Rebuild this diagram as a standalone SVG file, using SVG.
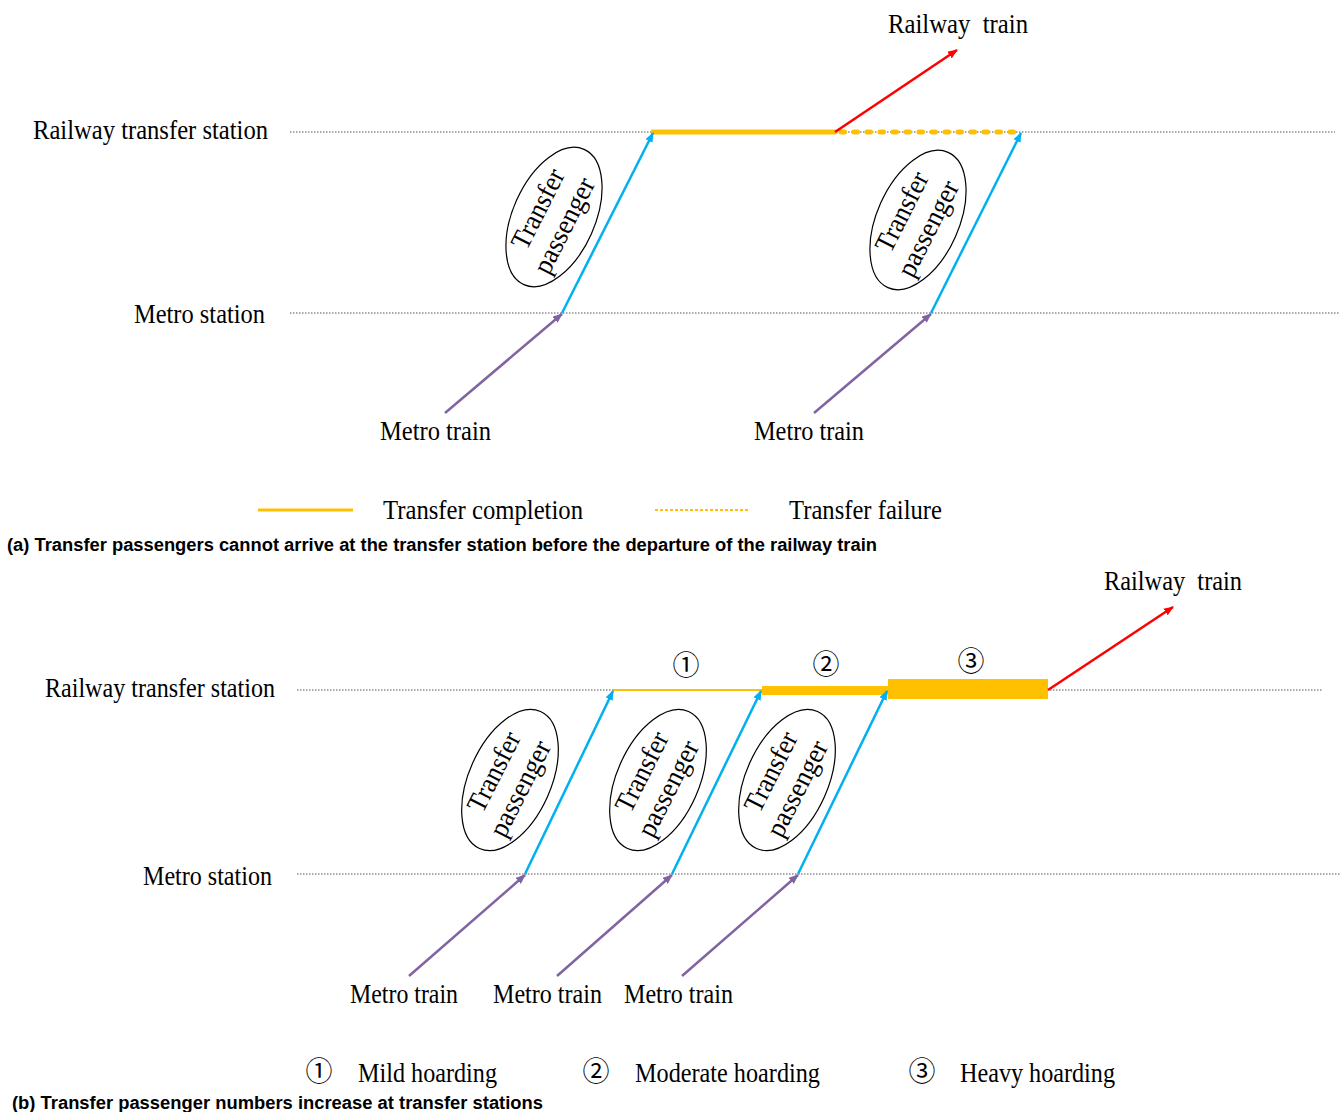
<svg xmlns="http://www.w3.org/2000/svg" width="1341" height="1112" viewBox="0 0 1341 1112">
<style>
.lbl{font-family:"Liberation Serif","Times New Roman",serif;font-size:26.5px;fill:#000}
.ell{fill:#fff;stroke:#000;stroke-width:1.2}
.ellt{font-family:"Liberation Serif","Times New Roman",serif;font-size:28px;text-anchor:middle;fill:#000}
.axis{stroke:#555;stroke-width:1;stroke-dasharray:1.5 1.5;fill:none}
.blue{stroke:#00B0F0;stroke-width:2.5;fill:none;marker-end:url(#ab)}
.purple{stroke:#8064A2;stroke-width:2.5;fill:none;marker-end:url(#ap)}
.red{stroke:#FF0000;stroke-width:2.5;fill:none;marker-end:url(#ar)}
.cap{font-family:"Liberation Sans Narrow","Liberation Sans",Arial,sans-serif;font-weight:bold;font-size:18px;fill:#000}
.circ{font-family:"Noto Sans CJK SC","DejaVu Sans",sans-serif;font-size:27px;text-anchor:middle;fill:#000}
.org{fill:#FFC000}
</style>
<defs>
<marker id="ab" markerUnits="userSpaceOnUse" markerWidth="10" markerHeight="8" refX="9" refY="4" orient="auto"><path d="M0,0 L10,4 L0,8 z" fill="#00B0F0"/></marker>
<marker id="ap" markerUnits="userSpaceOnUse" markerWidth="10" markerHeight="8" refX="9" refY="4" orient="auto"><path d="M0,0 L10,4 L0,8 z" fill="#8064A2"/></marker>
<marker id="ar" markerUnits="userSpaceOnUse" markerWidth="10" markerHeight="8" refX="9" refY="4" orient="auto"><path d="M0,0 L10,4 L0,8 z" fill="#FF0000"/></marker>
</defs>
<rect width="1341" height="1112" fill="#fff"/>

<!-- ===== Part (a) ===== -->
<g id="axes-a">
<line class="axis" x1="290" y1="132" x2="1335" y2="132"/>
<line class="axis" x1="290" y1="313" x2="1340" y2="313"/>
</g>
<g id="labels-a">
<text class="lbl" x="33" y="139" textLength="235" lengthAdjust="spacingAndGlyphs">Railway transfer station</text>
<text class="lbl" x="134" y="323" textLength="131" lengthAdjust="spacingAndGlyphs">Metro station</text>
<text class="lbl" x="888" y="33" textLength="140" lengthAdjust="spacingAndGlyphs" xml:space="preserve">Railway  train</text>
<text class="lbl" x="380" y="440" textLength="111" lengthAdjust="spacingAndGlyphs">Metro train</text>
<text class="lbl" x="754" y="440" textLength="110" lengthAdjust="spacingAndGlyphs">Metro train</text>
</g>
<g id="connectors-a">
<line x1="653" y1="132" x2="835" y2="132" stroke="#FFC000" stroke-width="5" stroke-linecap="round"/>
<line x1="841" y1="132" x2="1016" y2="132" stroke="#FFC000" stroke-width="5" stroke-linecap="round" stroke-dasharray="3.5 9.5"/>
<line class="red" x1="835" y1="132" x2="957" y2="50"/>
<line class="purple" x1="445" y1="413" x2="562" y2="314"/>
<line class="blue" x1="562" y1="313" x2="653" y2="133"/>
<line class="purple" x1="814" y1="413" x2="931" y2="314"/>
<line class="blue" x1="931" y1="313" x2="1021" y2="133"/>
</g>
<g id="node-a1" transform="translate(554,217)">
<ellipse class="ell" cx="0" cy="0" rx="41" ry="74" transform="rotate(24)"/>
<g transform="rotate(-63)"><text class="ellt" x="0" y="-9" textLength="86" lengthAdjust="spacingAndGlyphs">Transfer</text><text class="ellt" x="-3" y="22" textLength="104" lengthAdjust="spacingAndGlyphs">passenger</text></g>
</g>
<g id="node-a2" transform="translate(918,220)">
<ellipse class="ell" cx="0" cy="0" rx="41" ry="74" transform="rotate(24)"/>
<g transform="rotate(-63)"><text class="ellt" x="0" y="-9" textLength="86" lengthAdjust="spacingAndGlyphs">Transfer</text><text class="ellt" x="-3" y="22" textLength="104" lengthAdjust="spacingAndGlyphs">passenger</text></g>
</g>
<g id="legend-a">
<line x1="258" y1="510" x2="353" y2="510" stroke="#FFC000" stroke-width="3"/>
<text class="lbl" x="383" y="519" textLength="200" lengthAdjust="spacingAndGlyphs">Transfer completion</text>
<line x1="655" y1="510" x2="748" y2="510" stroke="#FFC000" stroke-width="2" stroke-dasharray="3 2"/>
<text class="lbl" x="789" y="519" textLength="153" lengthAdjust="spacingAndGlyphs">Transfer failure</text>
</g>
<text class="cap" x="7" y="551" textLength="870" lengthAdjust="spacingAndGlyphs">(a) Transfer passengers cannot arrive at the transfer station before the departure of the railway train</text>

<!-- ===== Part (b) ===== -->
<g id="axes-b">
<line class="axis" x1="297" y1="690" x2="1322" y2="690"/>
<line class="axis" x1="297" y1="874" x2="1341" y2="874"/>
</g>
<g id="labels-b">
<text class="lbl" x="45" y="697" textLength="230" lengthAdjust="spacingAndGlyphs">Railway transfer station</text>
<text class="lbl" x="143" y="885" textLength="129" lengthAdjust="spacingAndGlyphs">Metro station</text>
<text class="lbl" x="1104" y="590" textLength="138" lengthAdjust="spacingAndGlyphs" xml:space="preserve">Railway  train</text>
<text class="lbl" x="350" y="1003" textLength="108" lengthAdjust="spacingAndGlyphs">Metro train</text>
<text class="lbl" x="493" y="1003" textLength="109" lengthAdjust="spacingAndGlyphs">Metro train</text>
<text class="lbl" x="624" y="1003" textLength="109" lengthAdjust="spacingAndGlyphs">Metro train</text>
<text class="circ" x="686" y="675">①</text>
<text class="circ" x="826" y="674">②</text>
<text class="circ" x="971" y="671">③</text>
</g>
<g id="connectors-b">
<line x1="613" y1="690" x2="762" y2="690" stroke="#FFC000" stroke-width="2"/>
<rect class="org" x="762" y="686" width="126" height="9"/>
<rect class="org" x="888" y="679" width="160" height="20"/>
<line class="red" x1="1048" y1="690" x2="1173" y2="607"/>
<line class="purple" x1="409" y1="976" x2="525" y2="875"/>
<line class="blue" x1="525" y1="874" x2="613" y2="691"/>
<line class="purple" x1="557" y1="976" x2="672" y2="875"/>
<line class="blue" x1="672" y1="874" x2="761" y2="691"/>
<line class="purple" x1="682" y1="976" x2="798" y2="875"/>
<line class="blue" x1="798" y1="874" x2="887" y2="691"/>
</g>
<g id="node-b1" transform="translate(510,780)">
<ellipse class="ell" cx="0" cy="0" rx="41" ry="75" transform="rotate(24)"/>
<g transform="rotate(-63)"><text class="ellt" x="0" y="-9" textLength="86" lengthAdjust="spacingAndGlyphs">Transfer</text><text class="ellt" x="-3" y="22" textLength="104" lengthAdjust="spacingAndGlyphs">passenger</text></g>
</g>
<g id="node-b2" transform="translate(658,780)">
<ellipse class="ell" cx="0" cy="0" rx="41" ry="75" transform="rotate(24)"/>
<g transform="rotate(-63)"><text class="ellt" x="0" y="-9" textLength="86" lengthAdjust="spacingAndGlyphs">Transfer</text><text class="ellt" x="-3" y="22" textLength="104" lengthAdjust="spacingAndGlyphs">passenger</text></g>
</g>
<g id="node-b3" transform="translate(787,780)">
<ellipse class="ell" cx="0" cy="0" rx="41" ry="75" transform="rotate(24)"/>
<g transform="rotate(-63)"><text class="ellt" x="0" y="-9" textLength="86" lengthAdjust="spacingAndGlyphs">Transfer</text><text class="ellt" x="-3" y="22" textLength="104" lengthAdjust="spacingAndGlyphs">passenger</text></g>
</g>
<g id="legend-b">
<text class="circ" x="319" y="1081">①</text>
<text class="lbl" x="358" y="1082" textLength="139" lengthAdjust="spacingAndGlyphs">Mild hoarding</text>
<text class="circ" x="596" y="1081">②</text>
<text class="lbl" x="635" y="1082" textLength="185" lengthAdjust="spacingAndGlyphs">Moderate hoarding</text>
<text class="circ" x="922" y="1081">③</text>
<text class="lbl" x="960" y="1082" textLength="155" lengthAdjust="spacingAndGlyphs">Heavy hoarding</text>
</g>
<text class="cap" x="12" y="1109" textLength="531" lengthAdjust="spacingAndGlyphs">(b) Transfer passenger numbers increase at transfer stations</text>
</svg>
